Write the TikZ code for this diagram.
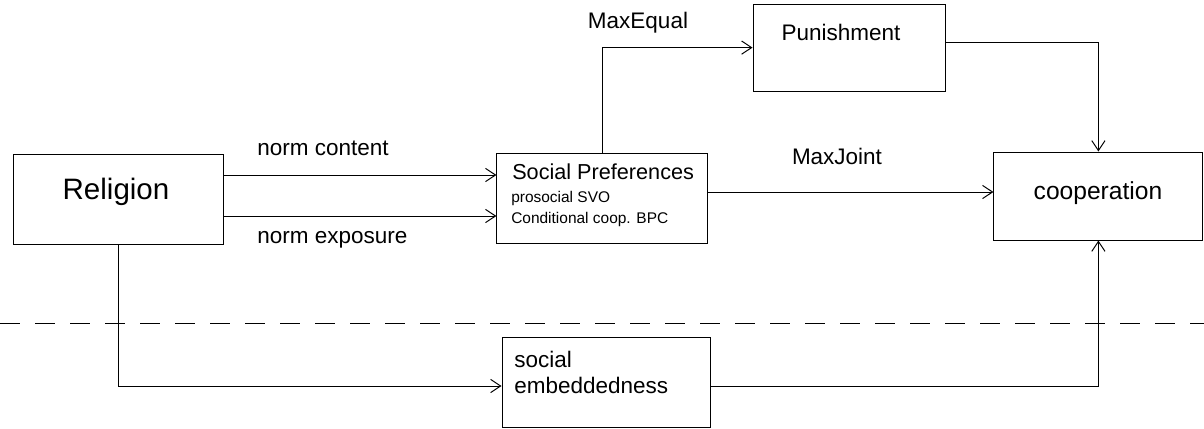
\documentclass[tikz,border=0pt]{standalone}
\usepackage{fontspec}
\setmainfont{Liberation Sans}
\usetikzlibrary{arrows.meta}
\begin{document}
\begin{tikzpicture}[
    box/.style={rectangle, draw, line width=0.7pt, inner sep=0pt},
    txt/.style={anchor=base, inner sep=0pt, font=\fontsize{16}{19}\selectfont},
    flow/.style={line width=0.7pt, -{Straight Barb[length=2.5mm,width=3.3mm]}},
    small/.style={font=\fontsize{11}{13}\selectfont}
]
\useasboundingbox (0,0) rectangle (30.1,10.7);

% Boxes
\node[box, minimum width=5.25cm, minimum height=2.25cm] (religion) at (2.95,5.725) {};
\node[box, minimum width=5.275cm, minimum height=2.25cm] (prefs) at (15.06,5.75) {};
\node[box, minimum width=4.8cm, minimum height=2.175cm] (punish) at (21.225,9.51) {};
\node[box, minimum width=5.225cm, minimum height=2.2cm] (coop) at (27.46,5.8) {};
\node[box, minimum width=5.2cm, minimum height=2.25cm] (embed) at (15.15,1.15) {};

% Box texts
\node[txt, font=\fontsize{21}{25}\selectfont] (religiontxt) at (2.9,5.725) {Religion};
\node[txt, anchor=base west, font=\fontsize{15.4}{18}\selectfont] (prefstxt) at (12.8,6.225) {Social Preferences};
\node[txt, anchor=base west, small] (svotxt) at (12.775,5.65) {prosocial SVO};
\node[txt, anchor=base west, small] (bpctxt) at (12.775,5.125) {Conditional coop. BPC};
\node[txt] (punishtxt) at (21.025,9.675) {Punishment};
\node[txt, font=\fontsize{17.5}{21}\selectfont] (cooptxt) at (27.45,5.725) {cooperation};
\node[txt, anchor=base west] (socialtxt) at (12.85,1.525) {social};
\node[txt, anchor=base west] (embedtxt) at (12.85,0.875) {embeddedness};

% Connector labels
\node[txt, anchor=base west] (contentlbl) at (6.425,6.825) {norm content};
\node[txt, anchor=base west] (exposurelbl) at (6.425,4.625) {norm exposure};
\node[txt] (equallbl) at (15.95,9.975) {MaxEqual};
\node[txt] (jointlbl) at (20.925,6.6) {MaxJoint};

% Connectors
\draw[flow] ([yshift=6mm]religion.east) -- ([yshift=6mm]religion.east -| prefs.west);
\draw[flow] ([yshift=-4.25mm]religion.east) -- ([yshift=-4.25mm]religion.east -| prefs.west);
\draw[flow] (prefs.north) |- (punish.west);
\draw[flow] ([yshift=1.4mm]punish.east) -| (coop.north);
\draw[flow] ([yshift=1.5mm]prefs.east) -- ([yshift=1.5mm]prefs.east -| coop.west);
\draw[flow] (religion.south) |- ([yshift=-1mm]embed.west);
\draw[flow] ([yshift=-1mm]embed.east) -| (coop.south);

% Divider
\draw[line width=0.7pt, dash pattern=on 5mm off 3.75mm] (0,2.625) -- (30.1,2.625);
\end{tikzpicture}
\end{document}
